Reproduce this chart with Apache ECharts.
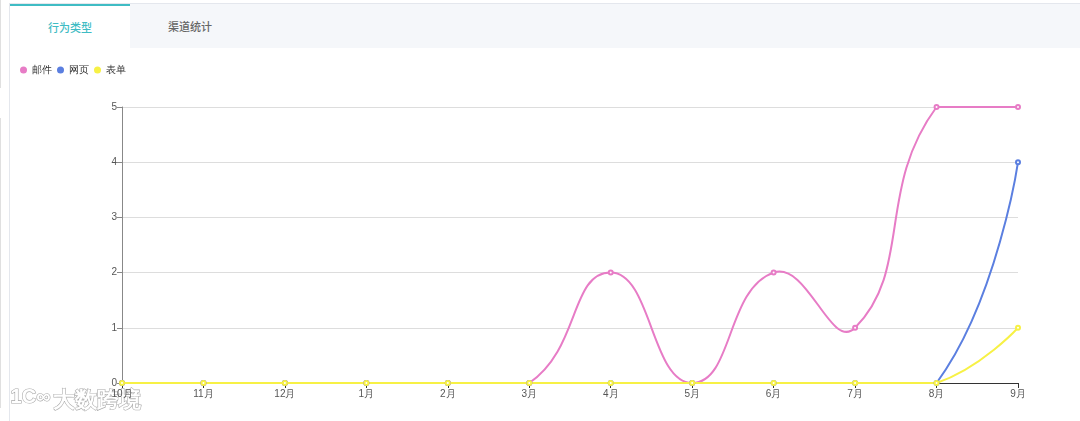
<!DOCTYPE html>
<html><head><meta charset="utf-8">
<script src="https://cdn.jsdelivr.net/npm/echarts@6/dist/echarts.min.js"></script>
<style>
html,body{margin:0;padding:0;width:1080px;height:421px;overflow:hidden;background:#fff;font-family:"Noto Sans CJK SC","Noto Sans",sans-serif;}
#edge1{position:absolute;left:0;top:0;width:1px;height:88px;background:#e0e0e0;}
#edge2{position:absolute;left:0;top:118px;width:1px;height:290px;background:#e0e0e0;}
#frame{position:absolute;left:9px;top:3px;right:-2px;bottom:-2px;border:1px solid #e4e7ed;}
#tabbar{position:absolute;left:10px;top:4px;right:0;height:44px;background:#f5f7fa;}
#tab1{position:absolute;left:10px;top:4px;width:120px;height:44px;background:#fff;border-top:2px solid #3fbcc4;box-sizing:border-box;color:#3fbcc4;font-size:11px;font-weight:500;text-align:center;line-height:42px;}
#tab2{position:absolute;left:130px;top:4px;width:120px;height:44px;color:#666;font-size:11px;font-weight:500;text-align:center;line-height:44px;}
#chart{position:absolute;left:0;top:48px;width:1080px;height:373px;}
</style></head>
<body>
<div id="edge1"></div><div id="edge2"></div>
<div id="frame"></div>
<div id="tabbar"></div>
<div id="tab1">行为类型</div>
<div id="tab2">渠道统计</div>
<div id="chart"></div>
<script>
const categories = ['10月','11月','12月','1月','2月','3月','4月','5月','6月','7月','8月','9月'];
const emailData = [0,0,0,0,0,0,2,0,2,1,5,5];
const webData   = [0,0,0,0,0,0,0,0,0,0,0,4];
const formData  = [0,0,0,0,0,0,0,0,0,0,0,1];
const seriesNames = ['邮件','网页','表单'];
const colors = ['#e77cc6','#5b7fe0','#f7f145'];
const allData = [emailData, webData, formData];

// classic (bbox-constrained) bezier smoothing, computed on library-projected pixel points
function smoothPath(pts, smooth){
  const n = pts.length;
  let minX=Infinity,minY=Infinity,maxX=-Infinity,maxY=-Infinity;
  pts.forEach(p=>{minX=Math.min(minX,p[0]);minY=Math.min(minY,p[1]);maxX=Math.max(maxX,p[0]);maxY=Math.max(maxY,p[1]);});
  const clamp=(c)=>[Math.min(Math.max(c[0],minX),maxX),Math.min(Math.max(c[1],minY),maxY)];
  const cps=[];
  for(let i=0;i<n;i++){
    const p=pts[i];
    if(i===0||i===n-1){cps.push([p[0],p[1]]);continue;}
    const pr=pts[i-1], nx=pts[i+1];
    const vx=(nx[0]-pr[0])*smooth, vy=(nx[1]-pr[1])*smooth;
    let d0=Math.hypot(p[0]-pr[0],p[1]-pr[1]), d1=Math.hypot(p[0]-nx[0],p[1]-nx[1]);
    const s=d0+d1; if(s){d0/=s;d1/=s;}
    cps.push(clamp([p[0]-vx*d0,p[1]-vy*d0]));
    cps.push(clamp([p[0]+vx*d1,p[1]+vy*d1]));
  }
  let d='M'+pts[0][0]+' '+pts[0][1];
  for(let i=0;i<n-1;i++){
    const a=cps[2*i], b=cps[2*i+1], p=pts[i+1];
    d+=' C'+a[0]+' '+a[1]+' '+b[0]+' '+b[1]+' '+p[0]+' '+p[1];
  }
  return d;
}

function curveSeries(idx){
  return {name:seriesNames[idx], type:'custom', data:[[0,0]], z:2, silent:true,
    renderItem:function(params, api){
      const pts = allData[idx].map((v,i)=>api.coord([i,v]));
      return {type:'path', shape:{pathData:smoothPath(pts,0.5)},
        style:{fill:'none', stroke:colors[idx], lineWidth:2}};
    }};
}
function pointSeries(idx){
  return {name:seriesNames[idx], type:'line', data:allData[idx], smooth:false, z:3,
    symbol:'emptyCircle', symbolSize:4, showAllSymbol:true,
    lineStyle:{width:0, opacity:0, color:colors[idx]}, itemStyle:{color:colors[idx], borderWidth:1}};
}

const chart = echarts.init(document.getElementById('chart'));
chart.setOption({
  animation:false,
  color: colors,
  legend:{left:15, top:12, icon:'circle', itemWidth:7, itemHeight:7, itemGap:5,
    textStyle:{fontSize:10,color:'#333'}, data:seriesNames},
  grid:{left:122, right:62, top:59, bottom:38},
  xAxis:{type:'category', boundaryGap:false, data:categories,
    axisLine:{lineStyle:{color:'#333'}}, axisTick:{lineStyle:{color:'#333'}},
    axisLabel:{color:'#555', fontSize:10, margin:6}},
  yAxis:{type:'value', min:0, max:5, interval:1,
    axisLine:{show:true, lineStyle:{color:'#888'}}, axisTick:{show:true, lineStyle:{color:'#888'}},
    axisLabel:{color:'#555', fontSize:10, margin:5},
    splitLine:{lineStyle:{color:'#ddd'}}},
  series:[curveSeries(0), curveSeries(1), curveSeries(2), pointSeries(0), pointSeries(1), pointSeries(2)],
  graphic:[{type:'text', left:52, top:341, style:{text:'大数跨境', fontSize:22, fontWeight:'bold', fill:'#fff', stroke:'#aaaaaa', lineWidth:1.2}},
           {type:'text', left:10, top:339, style:{text:'1C∞', fontSize:20, fontWeight:'bold', fill:'#fff', stroke:'#aaaaaa', lineWidth:1.2}}]
});
</script>
</body></html>
